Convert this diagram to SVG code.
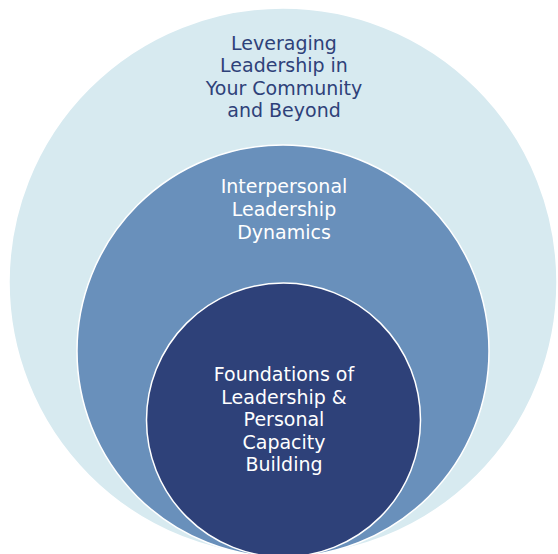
<svg xmlns="http://www.w3.org/2000/svg" width="558" height="554" viewBox="0 0 558 554">
  <style>
    .ring { stroke: #ffffff; stroke-width: 1.5; }
    .lbl { font-family: "DejaVu Sans", "Liberation Sans", sans-serif; font-size: 19px; text-anchor: middle; }
    .dark { fill: #2e4179; }
    .light { fill: #ffffff; }
  </style>
  <rect width="558" height="554" fill="#ffffff"/>
  <g id="outer">
    <circle class="ring" cx="283" cy="282" r="274" fill="#d7eaf0"/>
    <text class="lbl dark" x="284" y="49.5">Leveraging</text>
    <text class="lbl dark" x="284" y="72">Leadership in</text>
    <text class="lbl dark" x="284" y="94.5">Your Community</text>
    <text class="lbl dark" x="284" y="117">and Beyond</text>
  </g>
  <g id="middle">
    <circle class="ring" cx="283" cy="351" r="206" fill="#6990bb"/>
    <text class="lbl light" x="284" y="193">Interpersonal</text>
    <text class="lbl light" x="284" y="216">Leadership</text>
    <text class="lbl light" x="284" y="239">Dynamics</text>
  </g>
  <g id="inner">
    <circle class="ring" cx="283.5" cy="420" r="137" fill="#2e4179"/>
    <text class="lbl light" x="284" y="381">Foundations of</text>
    <text class="lbl light" x="284" y="403.5">Leadership &amp;</text>
    <text class="lbl light" x="284" y="426">Personal</text>
    <text class="lbl light" x="284" y="448.5">Capacity</text>
    <text class="lbl light" x="284" y="471">Building</text>
  </g>
  <g id="connectors"></g>
</svg>
